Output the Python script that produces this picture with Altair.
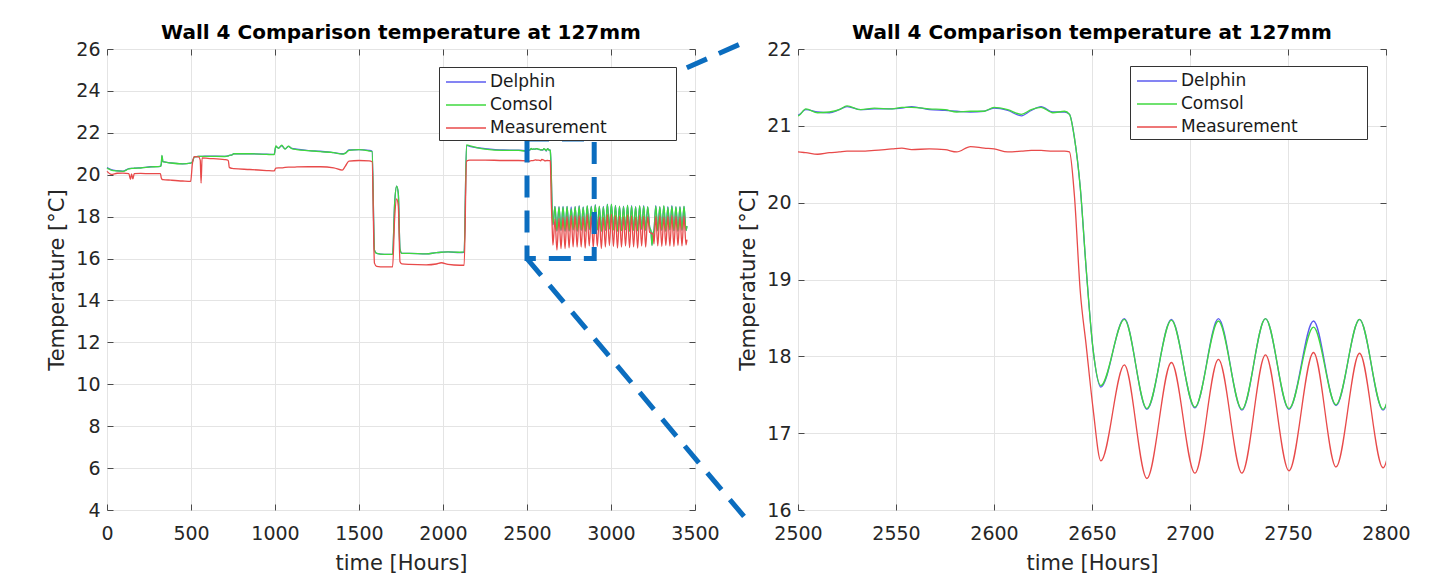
import altair as alt
import pandas as pd

TITLE = "Wall 4 Comparison temperature at 127mm"
X_TITLE = "time [Hours]"
Y_TITLE = "Temperature [°C]"
SERIES = ["Delphin", "Comsol", "Measurement"]
COLORS = ["#5b5bef", "#3fd83f", "#e84a4a"]

# ---- segment A: 0 - 2450 h ----
HOURS_A = [0, 25, 60, 95, 130, 140, 146, 154, 162, 200, 260, 318, 323, 327, 333, 380, 450, 498, 508, 520,
           545, 555, 560, 566, 600, 700, 722, 728, 745, 755, 850, 950, 995, 1005, 1020, 1040, 1060, 1080,
           1100, 1130, 1200, 1270, 1350, 1400, 1418, 1440, 1500, 1560, 1578, 1592, 1605, 1650, 1700, 1712,
           1724, 1734, 1744, 1755, 1800, 1900, 1960, 1990, 2030, 2100, 2126, 2140, 2160, 2250, 2360, 2450]
DELPHIN_A = [20.34, 20.24, 20.19, 20.17, 20.29, 20.30, 20.30, 20.30, 20.31, 20.33, 20.38, 20.40, 20.50, 20.90,
             20.62, 20.57, 20.52, 20.55, 20.62, 20.85, 20.88, 20.88, 20.88, 20.88, 20.89, 20.88, 20.90, 20.92,
             20.95, 21.00, 21.00, 20.98, 20.97, 21.34, 21.28, 21.38, 21.24, 21.35, 21.26, 21.22, 21.15, 21.12,
             21.05, 21.00, 21.03, 21.18, 21.20, 21.16, 21.12, 16.40, 16.25, 16.20, 16.20, 18.60, 19.45, 19.10,
             16.45, 16.25, 16.25, 16.22, 16.28, 16.30, 16.32, 16.28, 16.30, 21.40, 21.35, 21.25, 21.18, 21.17]
COMSOL_A = [20.32, 20.22, 20.18, 20.16, 20.28, 20.29, 20.30, 20.30, 20.31, 20.32, 20.37, 20.40, 20.50, 20.92,
            20.62, 20.56, 20.52, 20.55, 20.60, 20.85, 20.88, 20.88, 20.88, 20.88, 20.88, 20.87, 20.90, 20.92,
            20.95, 21.00, 21.00, 20.97, 20.96, 21.37, 21.26, 21.41, 21.22, 21.36, 21.25, 21.20, 21.15, 21.10,
            21.05, 20.98, 21.02, 21.16, 21.20, 21.13, 21.10, 16.40, 16.25, 16.20, 16.20, 18.60, 19.45, 19.10,
            16.45, 16.25, 16.25, 16.22, 16.28, 16.30, 16.32, 16.30, 16.32, 21.42, 21.38, 21.22, 21.16, 21.16]
MEAS_A = [20.16, 20.02, 20.07, 20.08, 20.05, 19.78, 20.04, 19.80, 20.05, 20.06, 20.05, 20.05, 19.85, 19.78,
          19.77, 19.74, 19.70, 19.68, 20.50, 20.86, 20.85, 20.70, 19.60, 20.80, 20.78, 20.72, 20.68, 20.35,
          20.30, 20.29, 20.25, 20.20, 20.18, 20.32, 20.33, 20.33, 20.35, 20.36, 20.36, 20.37, 20.38, 20.38,
          20.33, 20.22, 20.40, 20.65, 20.68, 20.66, 20.62, 15.78, 15.63, 15.60, 15.60, 17.90, 18.85, 18.50,
          15.85, 15.75, 15.72, 15.70, 15.74, 15.80, 15.72, 15.68, 15.68, 20.65, 20.70, 20.70, 20.68, 20.68]

# ---- segment B: 2500 - 2638.5 h (plateau before the drop) ----
HOURS_B = [2500, 2504, 2510, 2516, 2521, 2525, 2532, 2539, 2548, 2553, 2558, 2567, 2575, 2581, 2588, 2595,
           2600, 2607, 2614, 2619, 2624, 2630, 2636, 2638.5]
DELPHIN_B = [21.14, 21.21, 21.18, 21.17, 21.21, 21.25, 21.21, 21.22, 21.22, 21.23, 21.25, 21.21, 21.20, 21.19,
             21.18, 21.19, 21.23, 21.20, 21.13, 21.20, 21.25, 21.18, 21.18, 21.15]
COMSOL_B = [21.13, 21.22, 21.17, 21.18, 21.21, 21.26, 21.21, 21.23, 21.22, 21.24, 21.24, 21.22, 21.21, 21.18,
            21.19, 21.19, 21.24, 21.21, 21.15, 21.21, 21.24, 21.17, 21.19, 21.15]
MEAS_B = [20.66, 20.65, 20.63, 20.65, 20.66, 20.67, 20.67, 20.68, 20.70, 20.71, 20.69, 20.70, 20.69, 20.66,
          20.73, 20.71, 20.70, 20.66, 20.67, 20.68, 20.68, 20.67, 20.67, 20.66]

# ---- segment C: the drop ----
HOURS_C = [2641, 2644, 2647, 2650.5, 2654.5]
DELPHIN_C = [20.85, 20.20, 19.15, 18.10, 17.60]
COMSOL_C = [20.85, 20.20, 19.15, 18.10, 17.62]
MEAS_C = [20.10, 18.85, 18.15, 17.33, 16.64]

# ---- segment D: daily cycles 2666.5 - 3218.5 h (peaks and troughs) ----
HOURS_D = [2666.5, 2678, 2690.5, 2702.5, 2714.5, 2726.5, 2738.5, 2750.5, 2763, 2774.5, 2786.5, 2798.5,
           2810.5, 2822.5, 2834.5, 2846.5, 2858.5, 2870.5, 2882.5, 2894.5, 2906.5, 2918.5, 2930.5, 2942.5,
           2954.5, 2966.5, 2978.5, 2990.5, 3002.5, 3014.5, 3026.5, 3038.5, 3050.5, 3062.5, 3074.5, 3086.5,
           3098.5, 3110.5, 3122.5, 3134.5, 3146.5, 3158.5, 3170.5, 3182.5, 3194.5, 3206.5, 3218.5]
DELPHIN_D = [18.49, 17.31, 18.48, 17.33, 18.49, 17.30, 18.49, 17.31, 18.46, 17.36, 18.48, 17.30,
             18.52, 17.34, 18.47, 17.31, 18.50, 17.38, 18.50, 17.33, 18.57, 17.37, 18.48, 17.31,
             18.49, 17.34, 18.60, 17.40, 18.58, 17.37, 18.54, 17.31, 18.49, 17.34, 18.50, 17.37,
             18.53, 17.31, 18.52, 17.34, 18.48, 17.33, 18.50, 17.39, 18.52, 17.34, 18.47]
COMSOL_D = [18.48, 17.32, 18.47, 17.34, 18.46, 17.31, 18.49, 17.32, 18.38, 17.37, 18.48, 17.31,
            18.50, 17.35, 18.45, 17.30, 18.52, 17.40, 18.48, 17.32, 18.55, 17.38, 18.50, 17.30,
            18.47, 17.35, 18.58, 17.42, 18.60, 17.36, 18.52, 17.30, 18.50, 17.33, 18.48, 17.38,
            18.55, 17.30, 18.50, 17.35, 18.46, 17.32, 18.52, 17.40, 18.50, 17.35, 18.48]
MEAS_D = [17.89, 16.41, 17.92, 16.48, 17.96, 16.48, 18.02, 16.51, 18.05, 16.56, 18.04, 16.55,
          18.05, 16.55, 18.00, 16.50, 18.10, 16.60, 18.02, 16.52, 18.08, 16.58, 18.00, 16.48,
          17.98, 16.55, 18.10, 16.62, 18.12, 16.58, 18.05, 16.50, 18.02, 16.55, 18.00, 16.60,
          18.08, 16.52, 18.04, 16.56, 17.98, 16.50, 18.06, 16.60, 18.02, 16.55, 18.00]

# ---- segment E: interruption ----
HOURS_E = [3230, 3238, 3244, 3250, 3256]
DELPHIN_E = [17.50, 17.30, 16.65, 17.20, 17.35]
COMSOL_E = [17.50, 17.30, 16.62, 17.20, 17.35]
MEAS_E = [17.25, 17.22, 17.18, 17.20, 16.70]

# ---- segment F: daily cycles 3266.5 - 3452 h ----
HOURS_F = [3266.5, 3278.5, 3290.5, 3302.5, 3314.5, 3326.5, 3338.5, 3350.5, 3362.5, 3374.5, 3386.5,
           3398.5, 3410.5, 3422.5, 3434.5, 3446.5, 3452]
DELPHIN_F = [18.52, 17.33, 18.47, 17.34, 18.50, 17.31, 18.48, 17.37, 18.52, 17.33, 18.47, 17.31,
             18.48, 17.34, 18.49, 17.33, 17.55]
COMSOL_F = [18.50, 17.32, 18.48, 17.35, 18.52, 17.30, 18.45, 17.38, 18.50, 17.33, 18.48, 17.30,
            18.46, 17.35, 18.50, 17.34, 17.55]
MEAS_F = [18.02, 16.60, 18.05, 16.58, 18.00, 16.62, 18.04, 16.60, 18.06, 16.58, 18.02, 16.62,
          18.00, 16.60, 18.03, 16.65, 16.90]

HOURS = HOURS_A + HOURS_B + HOURS_C + HOURS_D + HOURS_E + HOURS_F
DELPHIN = DELPHIN_A + DELPHIN_B + DELPHIN_C + DELPHIN_D + DELPHIN_E + DELPHIN_F
COMSOL = COMSOL_A + COMSOL_B + COMSOL_C + COMSOL_D + COMSOL_E + COMSOL_F
MEASUREMENT = MEAS_A + MEAS_B + MEAS_C + MEAS_D + MEAS_E + MEAS_F

# zoom annotation (data coordinates of the left panel)
ZOOM_HOURS = [2500, 2900]
ZOOM_TEMPS = [16.0, 21.7]
CONN_H0 = [2500, 2500]
CONN_T0 = [21.7, 16.0]
CONN_H1 = [3795, 3810]
CONN_T1 = [26.33, 3.52]

LEFT_X_TICKS = [0, 500, 1000, 1500, 2000, 2500, 3000, 3500]
LEFT_Y_TICKS = [4, 6, 8, 10, 12, 14, 16, 18, 20, 22, 24, 26]
RIGHT_X_TICKS = [2500, 2550, 2600, 2650, 2700, 2750, 2800]
RIGHT_Y_TICKS = [16, 17, 18, 19, 20, 21, 22]

FONT = "DejaVu Sans"
GRID = "#e4e4e4"
FRAME = "#4a4a4a"
TEXT = "#262626"
BLUE = "#0b6dbf"

rows = []
for name, vals in zip(SERIES, [DELPHIN, COMSOL, MEASUREMENT]):
    for h, v in zip(HOURS, vals):
        rows.append({"hours": h, "temp": v, "series": name})
df = pd.DataFrame(rows)


def main_axis(values, title, is_x):
    return alt.Axis(values=values, title=title, format="d", grid=True, gridColor=GRID, gridWidth=1,
                    domain=False, ticks=True, tickSize=6, tickColor=FRAME, tickWidth=1, offset=-6,
                    labelFont=FONT, labelFontSize=19, labelColor=TEXT, labelFlush=False,
                    labelOverlap=False, labelPadding=14 if is_x else 7,
                    titleFont=FONT, titleFontSize=21, titleColor=TEXT, titleFontWeight="normal",
                    titlePadding=9 if is_x else 8)


def mirror_axis(values, orient):
    return alt.Axis(values=values, orient=orient, title=None, labels=False, grid=False, domain=False,
                    ticks=True, tickSize=6, tickColor=FRAME, tickWidth=1, offset=-6)


def legend_spec(ly):
    return alt.Legend(orient="none", legendX=332, legendY=ly, title=None,
                      symbolType="M-2,0H2", symbolSize=400, symbolStrokeWidth=1.5,
                      symbolOffset=12, labelOffset=13, labelFont=FONT, labelFontSize=17,
                      labelColor="#1a1a1a", labelLimit=400,
                      labelExpr="datum.label + '            \u200b'",
                      fillColor="white", strokeColor="#333333", padding=4, rowPadding=4)


def panel(data, xdom, xvals, ydom, yvals, ly, clip, annotations):
    xs = alt.Scale(domain=xdom, nice=False, zero=False)
    ys = alt.Scale(domain=ydom, nice=False, zero=False)
    color = alt.Color("series:N", scale=alt.Scale(domain=SERIES, range=COLORS), legend=legend_spec(ly))
    layers = []
    for i, name in enumerate(SERIES):
        layers.append(
            alt.Chart(data).transform_filter(alt.datum.series == name)
            .mark_line(strokeWidth=1.3, interpolate="monotone", clip=clip)
            .encode(
                x=alt.X("hours:Q", scale=xs, axis=main_axis(xvals, X_TITLE, True) if i == 0 else None),
                y=alt.Y("temp:Q", scale=ys, axis=main_axis(yvals, Y_TITLE, False) if i == 0 else None),
                color=color,
            )
        )
    mirror = alt.Chart(data).mark_point(opacity=0, clip=True).encode(
        x=alt.X("hours:Q", scale=xs, axis=mirror_axis(xvals, "top")),
        y=alt.Y("temp:Q", scale=ys, axis=mirror_axis(yvals, "right")),
    )
    layers.append(mirror)
    if annotations:
        box_df = pd.DataFrame({"h0": [ZOOM_HOURS[0]], "h1": [ZOOM_HOURS[1]],
                               "t0": [ZOOM_TEMPS[0]], "t1": [ZOOM_TEMPS[1]]})
        box = alt.Chart(box_df).mark_rect(fillOpacity=0, stroke=BLUE, strokeWidth=5,
                                          strokeDash=[22, 13]).encode(
            x=alt.X("h0:Q", scale=xs, axis=None), x2="h1:Q",
            y=alt.Y("t0:Q", scale=ys, axis=None), y2="t1:Q")
        conn_df = pd.DataFrame({"h0": CONN_H0, "t0": CONN_T0, "h1": CONN_H1, "t1": CONN_T1})
        conn = alt.Chart(conn_df).mark_rule(color=BLUE, strokeWidth=5, strokeDash=[22, 13]).encode(
            x=alt.X("h0:Q", scale=xs, axis=None), x2="h1:Q",
            y=alt.Y("t0:Q", scale=ys, axis=None), y2="t1:Q")
        layers += [box, conn]
    return alt.layer(*layers).resolve_axis(x="independent", y="independent").properties(
        width=588, height=461,
        title=alt.TitleParams(TITLE, font=FONT, fontSize=20, fontWeight="bold", color="#000000",
                              anchor="middle", offset=-3, frame="group"),
    )


left = panel(df, [0, 3500], LEFT_X_TICKS, [4, 26], LEFT_Y_TICKS, 18, False, True)
df_right = df[(df["hours"] >= 2450) & (df["hours"] <= 2823)]
right = panel(df_right, [2500, 2800], RIGHT_X_TICKS, [16, 22], RIGHT_Y_TICKS, 17, True, False)

chart = (
    alt.hconcat(left, right, spacing=103, bounds="flush")
    .resolve_legend(color="independent")
    .properties(padding={"left": 46, "top": 22, "right": 5, "bottom": 5}, background="white")
    .configure_view(stroke=FRAME, strokeWidth=1)
    .configure(font=FONT)
)

chart.save("out.html", embed_options={"renderer": "svg", "actions": False})
